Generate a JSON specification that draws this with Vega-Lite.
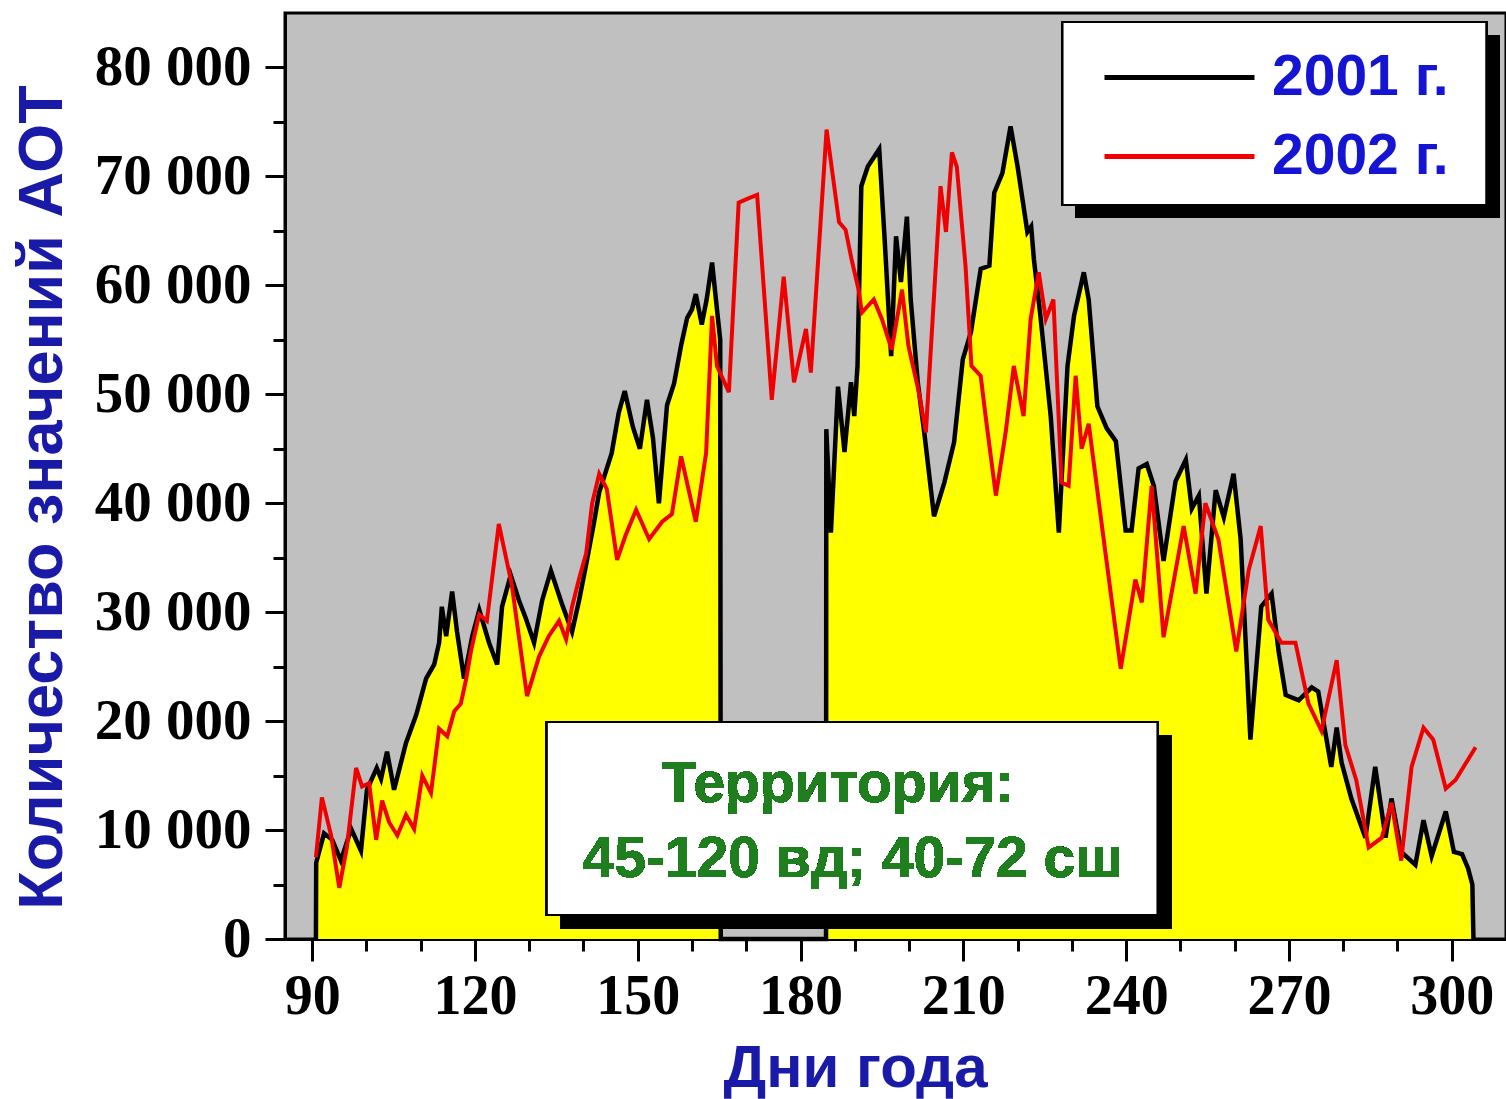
{
  "$schema": "https://vega.github.io/schema/vega-lite/v6.json",
  "width": 1221,
  "height": 926,
  "autosize": "none",
  "padding": {"left": 285, "top": 13, "right": 0, "bottom": 160},
  "background": "white",
  "config": {
    "view": {"fill": "#c0c0c0", "stroke": "black", "strokeWidth": 3},
    "legend": {
      "orient": "none",
      "legendX": 818,
      "legendY": 36,
      "padding": 0,
      "symbolType": "M-10,0H10",
      "symbolSize": 225,
      "symbolStrokeWidth": 5,
      "symbolOffset": 48,
      "labelOffset": 64,
      "labelFont": "Liberation Sans",
      "labelFontWeight": "bold",
      "labelFontSize": 57,
      "labelColor": "#1414d2",
      "labelLimit": 0,
      "rowPadding": 21
    }
  },
  "resolve": {"axis": {"x": "independent", "y": "independent"}},
  "data": {
    "values": [
      {"year": "2001 г.", "day": 90.7, "count": 0},
      {"year": "2001 г.", "day": 90.75, "count": 7000},
      {"year": "2001 г.", "day": 92.2, "count": 9700},
      {"year": "2001 г.", "day": 93.7, "count": 9100},
      {"year": "2001 г.", "day": 95.3, "count": 7200},
      {"year": "2001 г.", "day": 97.2, "count": 10100},
      {"year": "2001 г.", "day": 99.0, "count": 8100},
      {"year": "2001 г.", "day": 100.1, "count": 13700},
      {"year": "2001 г.", "day": 101.9, "count": 15700},
      {"year": "2001 г.", "day": 102.7, "count": 14700},
      {"year": "2001 г.", "day": 103.8, "count": 17200},
      {"year": "2001 г.", "day": 105.1, "count": 13700},
      {"year": "2001 г.", "day": 107.3, "count": 18000},
      {"year": "2001 г.", "day": 109.2, "count": 20600},
      {"year": "2001 г.", "day": 111.0, "count": 23900},
      {"year": "2001 г.", "day": 112.5, "count": 25200},
      {"year": "2001 г.", "day": 113.4, "count": 27200},
      {"year": "2001 г.", "day": 113.9, "count": 30500},
      {"year": "2001 г.", "day": 114.7, "count": 27800},
      {"year": "2001 г.", "day": 115.8, "count": 31900},
      {"year": "2001 г.", "day": 116.7, "count": 28200},
      {"year": "2001 г.", "day": 118.0, "count": 23900},
      {"year": "2001 г.", "day": 119.5, "count": 27800},
      {"year": "2001 г.", "day": 120.8, "count": 30200},
      {"year": "2001 г.", "day": 122.6, "count": 27200},
      {"year": "2001 г.", "day": 124.1, "count": 25200},
      {"year": "2001 г.", "day": 125.0, "count": 30500},
      {"year": "2001 г.", "day": 126.6, "count": 33400},
      {"year": "2001 г.", "day": 128.1, "count": 31100},
      {"year": "2001 г.", "day": 129.4, "count": 29400},
      {"year": "2001 г.", "day": 130.9, "count": 27200},
      {"year": "2001 г.", "day": 132.4, "count": 31100},
      {"year": "2001 г.", "day": 134.0, "count": 33800},
      {"year": "2001 г.", "day": 136.0, "count": 30800},
      {"year": "2001 г.", "day": 137.9, "count": 28200},
      {"year": "2001 г.", "day": 139.2, "count": 31100},
      {"year": "2001 г.", "day": 140.5, "count": 34400},
      {"year": "2001 г.", "day": 141.9, "count": 38100},
      {"year": "2001 г.", "day": 142.9, "count": 41000},
      {"year": "2001 г.", "day": 145.2, "count": 44600},
      {"year": "2001 г.", "day": 146.5, "count": 48300},
      {"year": "2001 г.", "day": 147.6, "count": 50300},
      {"year": "2001 г.", "day": 149.1, "count": 47000},
      {"year": "2001 г.", "day": 150.4, "count": 45000},
      {"year": "2001 г.", "day": 151.7, "count": 49500},
      {"year": "2001 г.", "day": 152.8, "count": 46000},
      {"year": "2001 г.", "day": 153.9, "count": 40000},
      {"year": "2001 г.", "day": 155.4, "count": 49000},
      {"year": "2001 г.", "day": 156.7, "count": 51000},
      {"year": "2001 г.", "day": 158.0, "count": 54500},
      {"year": "2001 г.", "day": 159.1, "count": 57000},
      {"year": "2001 г.", "day": 160.0, "count": 57800},
      {"year": "2001 г.", "day": 160.7, "count": 59200},
      {"year": "2001 г.", "day": 161.8, "count": 56400},
      {"year": "2001 г.", "day": 162.7, "count": 58700},
      {"year": "2001 г.", "day": 163.7, "count": 62100},
      {"year": "2001 г.", "day": 164.6, "count": 57800},
      {"year": "2001 г.", "day": 165.2, "count": 55000},
      {"year": "2001 г.", "day": 165.3, "count": 0},
      {"year": "2001 г.", "day": 184.7, "count": 0},
      {"year": "2001 г.", "day": 184.75, "count": 46800},
      {"year": "2001 г.", "day": 185.6, "count": 37300},
      {"year": "2001 г.", "day": 186.9, "count": 50700},
      {"year": "2001 г.", "day": 188.1, "count": 44700},
      {"year": "2001 г.", "day": 189.3, "count": 51100},
      {"year": "2001 г.", "day": 189.9, "count": 48000},
      {"year": "2001 г.", "day": 190.5, "count": 52600},
      {"year": "2001 г.", "day": 191.2, "count": 69100},
      {"year": "2001 г.", "day": 192.4, "count": 70900},
      {"year": "2001 г.", "day": 194.5, "count": 72500},
      {"year": "2001 г.", "day": 195.5, "count": 64200},
      {"year": "2001 г.", "day": 196.7, "count": 53500},
      {"year": "2001 г.", "day": 197.6, "count": 64500},
      {"year": "2001 г.", "day": 198.5, "count": 60300},
      {"year": "2001 г.", "day": 199.6, "count": 66300},
      {"year": "2001 г.", "day": 200.3, "count": 58700},
      {"year": "2001 г.", "day": 201.6, "count": 51100},
      {"year": "2001 г.", "day": 202.8, "count": 46500},
      {"year": "2001 г.", "day": 204.6, "count": 38800},
      {"year": "2001 г.", "day": 206.5, "count": 41900},
      {"year": "2001 г.", "day": 208.3, "count": 45600},
      {"year": "2001 г.", "day": 209.9, "count": 53200},
      {"year": "2001 г.", "day": 211.4, "count": 55700},
      {"year": "2001 г.", "day": 213.2, "count": 61500},
      {"year": "2001 г.", "day": 214.8, "count": 61800},
      {"year": "2001 г.", "day": 215.7, "count": 68500},
      {"year": "2001 г.", "day": 217.2, "count": 70300},
      {"year": "2001 г.", "day": 218.7, "count": 74600},
      {"year": "2001 г.", "day": 220.0, "count": 70900},
      {"year": "2001 г.", "day": 221.8, "count": 64900},
      {"year": "2001 г.", "day": 222.5, "count": 65400},
      {"year": "2001 г.", "day": 223.0, "count": 62400},
      {"year": "2001 г.", "day": 224.2, "count": 57200},
      {"year": "2001 г.", "day": 226.1, "count": 48000},
      {"year": "2001 г.", "day": 227.6, "count": 37300},
      {"year": "2001 г.", "day": 229.2, "count": 52600},
      {"year": "2001 г.", "day": 230.4, "count": 57200},
      {"year": "2001 г.", "day": 232.2, "count": 61200},
      {"year": "2001 г.", "day": 233.1, "count": 58700},
      {"year": "2001 г.", "day": 234.7, "count": 48900},
      {"year": "2001 г.", "day": 236.4, "count": 46900},
      {"year": "2001 г.", "day": 238.1, "count": 45700},
      {"year": "2001 г.", "day": 239.9, "count": 37500},
      {"year": "2001 г.", "day": 241.0, "count": 37500},
      {"year": "2001 г.", "day": 242.3, "count": 43200},
      {"year": "2001 г.", "day": 243.8, "count": 43600},
      {"year": "2001 г.", "day": 245.1, "count": 41600},
      {"year": "2001 г.", "day": 246.9, "count": 34700},
      {"year": "2001 г.", "day": 249.1, "count": 42000},
      {"year": "2001 г.", "day": 251.0, "count": 44000},
      {"year": "2001 г.", "day": 252.1, "count": 39500},
      {"year": "2001 г.", "day": 253.4, "count": 40700},
      {"year": "2001 г.", "day": 254.8, "count": 31700},
      {"year": "2001 г.", "day": 256.5, "count": 41200},
      {"year": "2001 г.", "day": 258.0, "count": 38700},
      {"year": "2001 г.", "day": 259.8, "count": 42700},
      {"year": "2001 г.", "day": 261.1, "count": 36700},
      {"year": "2001 г.", "day": 262.9, "count": 18300},
      {"year": "2001 г.", "day": 264.9, "count": 30500},
      {"year": "2001 г.", "day": 266.8, "count": 31700},
      {"year": "2001 г.", "day": 268.1, "count": 26400},
      {"year": "2001 г.", "day": 269.4, "count": 22400},
      {"year": "2001 г.", "day": 271.8, "count": 21900},
      {"year": "2001 г.", "day": 274.2, "count": 23100},
      {"year": "2001 г.", "day": 275.4, "count": 22700},
      {"year": "2001 г.", "day": 277.8, "count": 15800},
      {"year": "2001 г.", "day": 278.8, "count": 19400},
      {"year": "2001 г.", "day": 279.7, "count": 16200},
      {"year": "2001 г.", "day": 281.5, "count": 12900},
      {"year": "2001 г.", "day": 284.1, "count": 9300},
      {"year": "2001 г.", "day": 285.9, "count": 15800},
      {"year": "2001 г.", "day": 287.8, "count": 9300},
      {"year": "2001 г.", "day": 288.9, "count": 12900},
      {"year": "2001 г.", "day": 290.7, "count": 8000},
      {"year": "2001 г.", "day": 293.3, "count": 6800},
      {"year": "2001 г.", "day": 294.8, "count": 10900},
      {"year": "2001 г.", "day": 296.3, "count": 7600},
      {"year": "2001 г.", "day": 298.9, "count": 11700},
      {"year": "2001 г.", "day": 300.4, "count": 8000},
      {"year": "2001 г.", "day": 301.9, "count": 7800},
      {"year": "2001 г.", "day": 303.0, "count": 6500},
      {"year": "2001 г.", "day": 303.8, "count": 5000},
      {"year": "2001 г.", "day": 304.0, "count": 0},
      {"year": "2002 г.", "day": 90.7, "count": 7500},
      {"year": "2002 г.", "day": 91.8, "count": 13000},
      {"year": "2002 г.", "day": 93.5, "count": 9500},
      {"year": "2002 г.", "day": 95.0, "count": 4700},
      {"year": "2002 г.", "day": 96.4, "count": 8400},
      {"year": "2002 г.", "day": 98.1, "count": 15700},
      {"year": "2002 г.", "day": 99.2, "count": 14000},
      {"year": "2002 г.", "day": 100.5, "count": 14300},
      {"year": "2002 г.", "day": 101.8, "count": 9100},
      {"year": "2002 г.", "day": 102.9, "count": 12700},
      {"year": "2002 г.", "day": 104.2, "count": 10700},
      {"year": "2002 г.", "day": 105.7, "count": 9500},
      {"year": "2002 г.", "day": 107.3, "count": 11400},
      {"year": "2002 г.", "day": 108.8, "count": 10100},
      {"year": "2002 г.", "day": 110.3, "count": 15000},
      {"year": "2002 г.", "day": 111.9, "count": 13400},
      {"year": "2002 г.", "day": 113.4, "count": 19300},
      {"year": "2002 г.", "day": 114.9, "count": 18600},
      {"year": "2002 г.", "day": 116.2, "count": 20900},
      {"year": "2002 г.", "day": 117.4, "count": 21600},
      {"year": "2002 г.", "day": 118.4, "count": 23900},
      {"year": "2002 г.", "day": 119.3, "count": 26500},
      {"year": "2002 г.", "day": 120.8, "count": 29800},
      {"year": "2002 г.", "day": 122.2, "count": 29200},
      {"year": "2002 г.", "day": 124.4, "count": 38100},
      {"year": "2002 г.", "day": 126.8, "count": 32500},
      {"year": "2002 г.", "day": 129.6, "count": 22300},
      {"year": "2002 г.", "day": 131.8, "count": 25900},
      {"year": "2002 г.", "day": 133.6, "count": 27800},
      {"year": "2002 г.", "day": 135.5, "count": 29200},
      {"year": "2002 г.", "day": 136.8, "count": 27500},
      {"year": "2002 г.", "day": 137.9, "count": 30500},
      {"year": "2002 г.", "day": 139.2, "count": 33100},
      {"year": "2002 г.", "day": 140.5, "count": 35400},
      {"year": "2002 г.", "day": 141.6, "count": 40000},
      {"year": "2002 г.", "day": 142.9, "count": 42700},
      {"year": "2002 г.", "day": 144.3, "count": 41300},
      {"year": "2002 г.", "day": 146.2, "count": 34800},
      {"year": "2002 г.", "day": 147.8, "count": 37100},
      {"year": "2002 г.", "day": 149.7, "count": 39400},
      {"year": "2002 г.", "day": 152.1, "count": 36700},
      {"year": "2002 г.", "day": 154.5, "count": 38300},
      {"year": "2002 г.", "day": 156.3, "count": 39000},
      {"year": "2002 г.", "day": 158.0, "count": 44300},
      {"year": "2002 г.", "day": 160.7, "count": 38300},
      {"year": "2002 г.", "day": 162.6, "count": 44600},
      {"year": "2002 г.", "day": 163.7, "count": 57200},
      {"year": "2002 г.", "day": 164.6, "count": 52600},
      {"year": "2002 г.", "day": 166.8, "count": 50200},
      {"year": "2002 г.", "day": 168.6, "count": 67600},
      {"year": "2002 г.", "day": 170.5, "count": 68000},
      {"year": "2002 г.", "day": 172.0, "count": 68300},
      {"year": "2002 г.", "day": 174.7, "count": 49500},
      {"year": "2002 г.", "day": 176.9, "count": 60800},
      {"year": "2002 г.", "day": 178.8, "count": 51100},
      {"year": "2002 г.", "day": 181.0, "count": 56000},
      {"year": "2002 г.", "day": 181.9, "count": 52000},
      {"year": "2002 г.", "day": 184.8, "count": 74300},
      {"year": "2002 г.", "day": 187.1, "count": 65800},
      {"year": "2002 г.", "day": 188.3, "count": 65100},
      {"year": "2002 г.", "day": 189.4, "count": 62400},
      {"year": "2002 г.", "day": 190.7, "count": 59600},
      {"year": "2002 г.", "day": 191.3, "count": 57500},
      {"year": "2002 г.", "day": 193.5, "count": 58700},
      {"year": "2002 г.", "day": 195.0, "count": 56900},
      {"year": "2002 г.", "day": 196.8, "count": 54100},
      {"year": "2002 г.", "day": 198.7, "count": 59600},
      {"year": "2002 г.", "day": 199.9, "count": 54400},
      {"year": "2002 г.", "day": 201.8, "count": 50200},
      {"year": "2002 г.", "day": 203.1, "count": 46500},
      {"year": "2002 г.", "day": 205.8, "count": 69100},
      {"year": "2002 г.", "day": 206.8, "count": 64900},
      {"year": "2002 г.", "day": 207.9, "count": 72200},
      {"year": "2002 г.", "day": 208.8, "count": 70900},
      {"year": "2002 г.", "day": 210.4, "count": 61800},
      {"year": "2002 г.", "day": 211.5, "count": 52600},
      {"year": "2002 г.", "day": 213.2, "count": 51700},
      {"year": "2002 г.", "day": 214.1, "count": 48000},
      {"year": "2002 г.", "day": 216.0, "count": 40700},
      {"year": "2002 г.", "day": 217.8, "count": 46500},
      {"year": "2002 г.", "day": 219.3, "count": 52600},
      {"year": "2002 г.", "day": 221.1, "count": 48000},
      {"year": "2002 г.", "day": 222.4, "count": 56900},
      {"year": "2002 г.", "day": 223.9, "count": 61200},
      {"year": "2002 г.", "day": 225.2, "count": 56900},
      {"year": "2002 г.", "day": 226.6, "count": 58700},
      {"year": "2002 г.", "day": 228.1, "count": 41900},
      {"year": "2002 г.", "day": 229.4, "count": 41600},
      {"year": "2002 г.", "day": 230.7, "count": 51700},
      {"year": "2002 г.", "day": 231.8, "count": 45000},
      {"year": "2002 г.", "day": 233.1, "count": 47300},
      {"year": "2002 г.", "day": 236.2, "count": 35400},
      {"year": "2002 г.", "day": 239.0, "count": 24800},
      {"year": "2002 г.", "day": 241.7, "count": 33000},
      {"year": "2002 г.", "day": 242.9, "count": 30900},
      {"year": "2002 г.", "day": 244.7, "count": 41600},
      {"year": "2002 г.", "day": 246.9, "count": 27700},
      {"year": "2002 г.", "day": 250.6, "count": 37900},
      {"year": "2002 г.", "day": 252.8, "count": 31700},
      {"year": "2002 г.", "day": 254.6, "count": 40000},
      {"year": "2002 г.", "day": 257.0, "count": 36700},
      {"year": "2002 г.", "day": 260.3, "count": 26400},
      {"year": "2002 г.", "day": 262.6, "count": 33900},
      {"year": "2002 г.", "day": 264.8, "count": 37900},
      {"year": "2002 г.", "day": 266.2, "count": 29300},
      {"year": "2002 г.", "day": 268.6, "count": 27200},
      {"year": "2002 г.", "day": 271.2, "count": 27200},
      {"year": "2002 г.", "day": 273.6, "count": 21600},
      {"year": "2002 г.", "day": 276.0, "count": 19100},
      {"year": "2002 г.", "day": 278.8, "count": 25600},
      {"year": "2002 г.", "day": 280.4, "count": 17800},
      {"year": "2002 г.", "day": 282.4, "count": 14600},
      {"year": "2002 г.", "day": 284.7, "count": 8400},
      {"year": "2002 г.", "day": 287.1, "count": 9300},
      {"year": "2002 г.", "day": 288.9, "count": 12500},
      {"year": "2002 г.", "day": 290.7, "count": 7200},
      {"year": "2002 г.", "day": 292.6, "count": 15800},
      {"year": "2002 г.", "day": 294.8, "count": 19400},
      {"year": "2002 г.", "day": 296.6, "count": 18300},
      {"year": "2002 г.", "day": 298.9, "count": 13800},
      {"year": "2002 г.", "day": 300.7, "count": 14600},
      {"year": "2002 г.", "day": 304.4, "count": 17600}
    ]
  },
  "layer": [
    {
      "transform": [{"filter": "datum.year === '2001 г.'"}],
      "mark": {"type": "area", "color": "#ffff00", "interpolate": "linear"},
      "encoding": {
        "x": {
          "field": "day",
          "type": "quantitative",
          "scale": {"domain": [85, 310], "nice": false, "zero": false},
          "axis": {
            "orient": "bottom",
            "title": "Дни года",
            "values": [90, 120, 150, 180, 210, 240, 270, 300],
            "tickSize": 22,
            "tickWidth": 3,
            "tickColor": "black",
            "domainColor": "black",
            "domainWidth": 3,
            "grid": false,
            "labelFont": "Liberation Serif",
            "labelFontWeight": "bold",
            "labelFontSize": 56,
            "labelColor": "black",
            "labelPadding": 8,
            "labelOverlap": false,
            "labelFlush": false,
            "titleFont": "Liberation Sans",
            "titleFontWeight": "bold",
            "titleFontSize": 60,
            "titleColor": "#1a1aa8",
            "titleX": 570,
            "titleY": 129,
            "titleAlign": "center",
            "titleBaseline": "middle"
          }
        },
        "y": {
          "field": "count",
          "type": "quantitative",
          "scale": {"domain": [0, 85000], "nice": false},
          "axis": {
            "orient": "left",
            "title": "Количество значений АОТ",
            "values": [0, 10000, 20000, 30000, 40000, 50000, 60000, 70000, 80000],
            "labelExpr": "replace(format(datum.value, ','), ',', ' ')",
            "tickSize": 20,
            "tickWidth": 3,
            "tickColor": "black",
            "domainColor": "black",
            "domainWidth": 3,
            "grid": false,
            "labelFont": "Liberation Serif",
            "labelFontWeight": "bold",
            "labelFontSize": 57,
            "labelColor": "black",
            "labelPadding": 14,
            "labelOverlap": false,
            "titleFont": "Liberation Sans",
            "titleFontWeight": "bold",
            "titleFontSize": 63,
            "titleColor": "#1a1aa8",
            "titleX": -243,
            "titleY": 484,
            "titleAngle": -90,
            "titleAlign": "center",
            "titleBaseline": "middle"
          }
        }
      }
    },
    {
      "transform": [{"filter": "datum.year === '2001 г.'"}],
      "mark": {"type": "line", "interpolate": "linear", "strokeWidth": 4.5},
      "encoding": {
        "x": {
          "field": "day",
          "type": "quantitative",
          "axis": {
            "orient": "bottom",
            "title": null,
            "values": [100, 110, 130, 140, 160, 170, 190, 200, 220, 230, 250, 260, 280, 290],
            "labels": false,
            "domain": false,
            "grid": false,
            "tickSize": 12,
            "tickWidth": 3,
            "tickColor": "black"
          }
        },
        "y": {
          "field": "count",
          "type": "quantitative",
          "axis": {
            "orient": "left",
            "title": null,
            "values": [5000, 15000, 25000, 35000, 45000, 55000, 65000, 75000],
            "labels": false,
            "domain": false,
            "grid": false,
            "tickSize": 12,
            "tickWidth": 3,
            "tickColor": "black"
          }
        },
        "color": {
          "field": "year",
          "type": "nominal",
          "scale": {"domain": ["2001 г.", "2002 г."], "range": ["#000000", "#f00000"]},
          "legend": {"title": null}
        }
      }
    },
    {
      "transform": [{"filter": "datum.year === '2002 г.'"}],
      "mark": {"type": "line", "interpolate": "linear", "strokeWidth": 4},
      "encoding": {
        "x": {"field": "day", "type": "quantitative", "axis": null},
        "y": {"field": "count", "type": "quantitative", "axis": null},
        "color": {
          "field": "year",
          "type": "nominal",
          "scale": {"domain": ["2001 г.", "2002 г."], "range": ["#000000", "#f00000"]},
          "legend": {"title": null}
        }
      }
    },
    {
      "mark": {"type": "rect", "color": "black"},
      "encoding": {
        "x": {"datum": 230.67, "type": "quantitative", "axis": null},
        "x2": {"datum": 308.76},
        "y": {"datum": 82980, "type": "quantitative", "axis": null},
        "y2": {"datum": 66180}
      }
    },
    {
      "mark": {"type": "rect", "fill": "white", "stroke": "black", "strokeWidth": 2},
      "encoding": {
        "x": {"datum": 228.28, "type": "quantitative", "axis": null},
        "x2": {"datum": 306.36},
        "y": {"datum": 84175, "type": "quantitative", "axis": null},
        "y2": {"datum": 67375}
      }
    },
    {
      "mark": {"type": "rect", "color": "black"},
      "encoding": {
        "x": {"datum": 135.83, "type": "quantitative", "axis": null},
        "x2": {"datum": 248.35},
        "y": {"datum": 18725, "type": "quantitative", "axis": null},
        "y2": {"datum": 918}
      }
    },
    {
      "mark": {"type": "rect", "fill": "white", "stroke": "black", "strokeWidth": 2},
      "encoding": {
        "x": {"datum": 133.25, "type": "quantitative", "axis": null},
        "x2": {"datum": 245.77},
        "y": {"datum": 19920, "type": "quantitative", "axis": null},
        "y2": {"datum": 2203}
      }
    },
    {
      "mark": {"type": "text", "font": "Liberation Sans", "fontWeight": "bold", "fontSize": 57, "color": "#1f7f1f", "align": "center", "baseline": "middle"},
      "encoding": {
        "x": {"datum": 186.84, "type": "quantitative", "axis": null},
        "y": {"datum": 14136, "type": "quantitative", "axis": null},
        "text": {"value": "Территория:"}
      }
    },
    {
      "mark": {"type": "text", "font": "Liberation Sans", "fontWeight": "bold", "fontSize": 57, "color": "#1f7f1f", "align": "center", "baseline": "middle"},
      "encoding": {
        "x": {"datum": 189.6, "type": "quantitative", "axis": null},
        "y": {"datum": 7252, "type": "quantitative", "axis": null},
        "text": {"value": "45-120 вд; 40-72 сш"}
      }
    }
  ]
}
